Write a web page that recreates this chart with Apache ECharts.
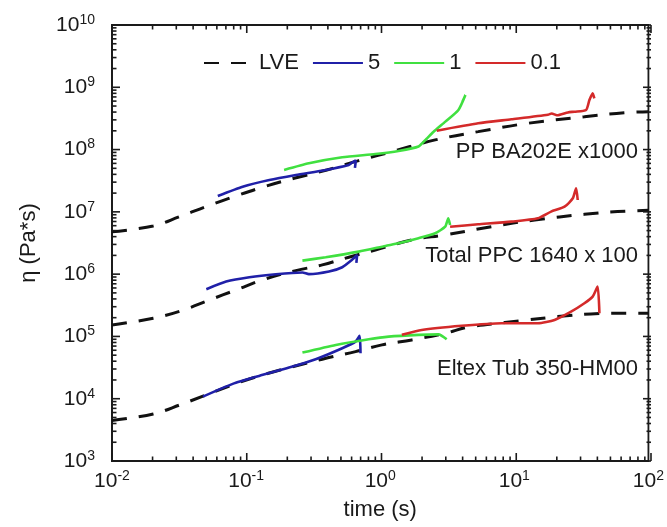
<!DOCTYPE html>
<html>
<head>
<meta charset="utf-8">
<script src="https://cdn.jsdelivr.net/npm/echarts@6/dist/echarts.min.js"></script>
<style>
  html, body { margin: 0; padding: 0; background: #fff; }
  #wrap { position: relative; width: 667px; height: 527px; }
  #chart, #ticks { position: absolute; left: 0; top: 0; width: 667px; height: 527px; }
  #ticks { pointer-events: none; }
</style>
</head>
<body>
<div id="wrap">
  <div id="chart"></div>
  <div id="ticks"></div>
</div>
<script>
// Transient extensional viscosity, eta(t) in Pa*s against time in s.
// Each curve is a list of [time, eta] pairs.

// Decade exponents spanned by the axes
const xDecades = [-2, -1, 0, 1, 2];
const yDecades = [3, 4, 5, 6, 7, 8, 9, 10];

// Legend entries: linear viscoelastic envelope and Hencky strain rates (1/s)
const seriesNames = ['LVE', '5', '1', '0.1'];

// Sample labels
const sampleLabels = ['PP BA202E x1000', 'Total PPC 1640 x 100', 'Eltex Tub 350-HM00'];

// ---- PP BA202E (x1000) ----
const ppLVE = [[0.01, 4.8e6], [0.0203, 5.94e6], [0.032, 8.38e6], [0.0519, 1.245e7], [0.0841, 1.8e7],
  [0.1365, 2.54e7], [0.228, 3.46e7], [0.40, 4.7e7], [0.692, 6.64e7], [1.3, 9.6e7], [2.57, 1.43e8],
  [5.38, 1.94e8], [12.6, 2.64e8], [33.3, 3.37e8], [66, 3.91e8], [100, 4.06e8]];
const pp5 = [[0.0615, 1.8e7], [0.0942, 2.54e7], [0.149, 3.25e7], [0.235, 3.91e7], [0.392, 4.71e7],
  [0.583, 5.66e7], [0.604, 5.98e7], [0.658, 6.68e7], [0.648, 5.07e7]];
const pp1 = [[0.192, 4.71e7], [0.294, 6.03e7], [0.521, 7.52e7], [0.92, 8.49e7], [1.37, 9.51e7],
  [1.93, 1.12e8], [2.21, 1.48e8], [2.49, 1.92e8], [3.06, 2.81e8], [3.83, 4.33e8], [4.32, 7.52e8],
  [4.09, 5.81e8]];
const pp01 = [[2.64, 2.01e8], [5.38, 2.64e8], [9.5, 3.06e8], [17.8, 3.62e8], [19.0, 3.8e8],
  [20.8, 3.55e8], [25.1, 3.95e8], [28.1, 4.06e8], [34.3, 4.33e8], [36.3, 6.25e8], [38.4, 8.02e8],
  [39.5, 6.65e8]];

// ---- Total PPC 1640 (x100) ----
const ppcLVE = [[0.01, 1.53e5], [0.0203, 1.96e5], [0.0329, 2.59e5], [0.0533, 3.85e5], [0.0841, 5.57e5],
  [0.1365, 8.28e5], [0.235, 1.14e6], [0.37, 1.41e6], [0.583, 1.87e6], [0.92, 2.44e6], [1.72, 3.54e6],
  [3.05, 4.26e6], [6.76, 5.78e6], [14.2, 7.41e6], [33.3, 9.14e6], [58.9, 1.01e7], [100, 1.06e7]];
const ppc5 = [[0.0505, 5.73e5], [0.071, 7.59e5], [0.1057, 8.91e5], [0.1667, 9.95e5], [0.263, 1.06e6],
  [0.294, 1.0e6], [0.415, 1.1e6], [0.521, 1.29e6], [0.614, 1.69e6], [0.673, 2.03e6], [0.664, 1.51e6]];
const ppc1 = [[0.263, 1.65e6], [0.392, 1.87e6], [0.692, 2.3e6], [1.094, 2.84e6], [1.37, 3.13e6],
  [1.93, 3.77e6], [2.57, 4.53e6], [3.05, 5.78e6], [3.22, 7.89e6], [3.32, 6.17e6]];
const ppc01 = [[3.32, 5.78e6], [5.38, 6.31e6], [9.5, 6.97e6], [15.0, 7.89e6], [18.8, 1.01e7],
  [23.7, 1.21e7], [27.3, 1.65e7], [28.9, 2.39e7], [29.7, 1.55e7]];

// ---- Eltex Tub 350-HM00 ----
const eltLVE = [[0.01, 4.46e3], [0.0203, 5.7e3], [0.032, 7.94e3], [0.0794, 1.67e4], [0.133, 2.41e4],
  [0.37, 4.31e4], [0.655, 5.7e4], [1.03, 7.31e4], [1.72, 8.79e4], [3.05, 1.12e5], [4.54, 1.41e5],
  [8.49, 1.67e5], [12.6, 1.84e5], [21.1, 2.08e5], [37.3, 2.3e5], [58.9, 2.36e5], [100, 2.36e5]];
const elt5 = [[0.0476, 1.08e4], [0.0794, 1.73e4], [0.125, 2.32e4], [0.209, 3.16e4], [0.33, 4.31e4],
  [0.521, 6.47e4], [0.655, 8.26e4], [0.702, 1.02e5], [0.713, 5.37e4]];
const elt1 = [[0.263, 5.5e4], [0.466, 7.31e4], [0.822, 9.02e4], [1.156, 9.93e4], [1.93, 1.06e5],
  [2.72, 1.08e5], [3.13, 9.02e4]];
const elt01 = [[1.45, 1.06e5], [2.04, 1.27e5], [4.05, 1.48e5], [8.02, 1.63e5], [15.0, 1.63e5],
  [19.95, 1.84e5], [26.5, 2.5e5], [33.3, 3.41e5], [38.4, 4.36e5], [41.8, 6.31e5], [43.1, 2.36e5]];

const FONT = "'Liberation Sans', Arial, Helvetica, sans-serif";
const INK = '#1a1a1a';
const colors = { 'LVE': '#111111', '5': '#2020a8', '1': '#40e040', '0.1': '#d42a2a' };

const xMin = Math.pow(10, xDecades[0]), xMax = Math.pow(10, xDecades[xDecades.length - 1]);
const yMin = Math.pow(10, yDecades[0]), yMax = Math.pow(10, yDecades[yDecades.length - 1]);
const GRID = { left: 112, top: 25, right: 16, bottom: 66, containLabel: false };

// Tick marks on all four sides: [x, y, direction (0 = x ticks, 1 = y ticks), length]
const MAJOR = 8, MINOR = 4.5;
function tickRows(decades, dir) {
  const rows = [];
  for (let i = 0; i < decades.length; i++) {
    const v = Math.pow(10, decades[i]);
    rows.push(dir === 0 ? [v, yMin, 0, MAJOR] : [xMin, v, 1, MAJOR]);
    if (i === decades.length - 1) break;
    for (let k = 2; k <= 9; k++) {
      const m = k * v;
      rows.push(dir === 0 ? [m, yMin, 0, MINOR] : [xMin, m, 1, MINOR]);
    }
  }
  return rows;
}
const tickData = tickRows(xDecades, 0).concat(tickRows(yDecades, 1));

function renderTick(params, api) {
  const dir = api.value(2), len = api.value(3);
  const style = { stroke: INK, lineWidth: 1.6 };
  if (dir === 0) {
    const v = api.value(0);
    const b = api.coord([v, yMin]), t = api.coord([v, yMax]);
    return { type: 'group', children: [
      { type: 'line', shape: { x1: b[0], y1: b[1], x2: b[0], y2: b[1] - len }, style: style },
      { type: 'line', shape: { x1: t[0], y1: t[1], x2: t[0], y2: t[1] + len }, style: style }
    ] };
  }
  const v = api.value(1);
  const l = api.coord([xMin, v]), r = api.coord([xMax, v]);
  return { type: 'group', children: [
    { type: 'line', shape: { x1: l[0], y1: l[1], x2: l[0] + len, y2: l[1] }, style: style },
    { type: 'line', shape: { x1: r[0], y1: r[1], x2: r[0] - len, y2: r[1] }, style: style }
  ] };
}

const powLabel = v => '{b|10}{s|' + Math.round(Math.log10(v)) + '}';
const rich = {
  b: { fontSize: 21, fontFamily: FONT, color: INK, lineHeight: 24 },
  s: { fontSize: 14, fontFamily: FONT, color: INK, verticalAlign: 'top', lineHeight: 14 }
};

function curve(name, data, dashed) {
  return {
    type: 'line', name: name, data: data, xAxisIndex: 0, yAxisIndex: 0,
    showSymbol: false, symbol: 'none', smooth: dashed ? 0.4 : 0.2,
    lineStyle: dashed
      ? { color: colors[name], width: 3, type: [15, 12] }
      : { color: colors[name], width: 2.6 },
    itemStyle: { color: colors[name] },
    emphasis: { disabled: true },
    z: dashed ? 2 : 3
  };
}

const textStyle = { fontSize: 22, fontFamily: FONT, fill: INK, textAlign: 'right', textVerticalAlign: 'middle' };

// Main plot: frame, labels, legend, curves and sample names
const option = {
  animation: false,
  backgroundColor: '#ffffff',
  grid: Object.assign({ show: true, borderColor: INK, borderWidth: 1.8, backgroundColor: 'transparent' }, GRID),
  legend: {
    data: seriesNames,
    left: 198, top: 46,
    itemWidth: 50, itemHeight: 24, itemGap: 13,
    itemStyle: { opacity: 0 },
    textStyle: { fontSize: 22, fontFamily: FONT, color: INK, lineHeight: 24 },
    selectedMode: false
  },
  xAxis: [{
    type: 'log', logBase: 10, min: xMin, max: xMax, interval: 1, position: 'bottom',
    name: 'time (s)', nameLocation: 'middle', nameGap: 38,
    nameTextStyle: { fontSize: 22, fontFamily: FONT, color: INK },
    axisLine: { show: true, onZero: false, lineStyle: { color: INK, width: 1.8 } },
    axisTick: { show: false },
    axisLabel: { margin: 8, formatter: powLabel, rich: rich },
    splitLine: { show: false }
  }],
  yAxis: [{
    type: 'log', logBase: 10, min: yMin, max: yMax, interval: 1, position: 'left',
    name: '\u03b7 (Pa*s)', nameLocation: 'middle', nameGap: 72,
    nameTextStyle: { fontSize: 22, fontFamily: FONT, color: INK },
    axisLine: { show: true, onZero: false, lineStyle: { color: INK, width: 1.8 } },
    axisTick: { show: false },
    axisLabel: { margin: 17, formatter: powLabel, rich: rich },
    splitLine: { show: false }
  }],
  graphic: [
    { type: 'text', x: 638, y: 152, style: Object.assign({ text: sampleLabels[0] }, textStyle) },
    { type: 'text', x: 638, y: 256, style: Object.assign({ text: sampleLabels[1] }, textStyle) },
    { type: 'text', x: 638, y: 369, style: Object.assign({ text: sampleLabels[2] }, textStyle) }
  ],
  series: [
    curve('LVE', ppLVE, true), curve('LVE', ppcLVE, true), curve('LVE', eltLVE, true),
    curve('5', pp5), curve('5', ppc5), curve('5', elt5),
    curve('1', pp1), curve('1', ppc1), curve('1', elt1),
    curve('0.1', pp01), curve('0.1', ppc01), curve('0.1', elt01)
  ]
};

// Transparent layer on the same grid and log scales carrying the tick marks
const tickOption = {
  animation: false,
  grid: GRID,
  xAxis: [{ type: 'log', logBase: 10, min: xMin, max: xMax, interval: 1,
    axisLine: { show: false }, axisTick: { show: false }, axisLabel: { show: false }, splitLine: { show: false } }],
  yAxis: [{ type: 'log', logBase: 10, min: yMin, max: yMax, interval: 1,
    axisLine: { show: false }, axisTick: { show: false }, axisLabel: { show: false }, splitLine: { show: false } }],
  series: [{
    type: 'custom', data: tickData, renderItem: renderTick,
    xAxisIndex: 0, yAxisIndex: 0, encode: { x: 0, y: 1 },
    clip: false, silent: true, z: 5
  }]
};

const chart = echarts.init(document.getElementById('chart'), null, { renderer: 'canvas' });
chart.setOption(option);
const tickChart = echarts.init(document.getElementById('ticks'), null, { renderer: 'canvas' });
tickChart.setOption(tickOption);
</script>
</body>
</html>
